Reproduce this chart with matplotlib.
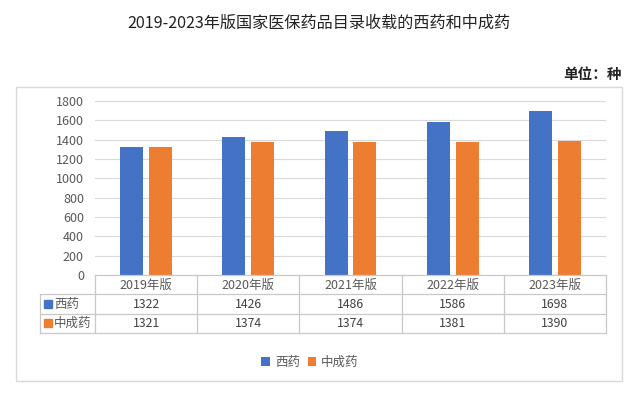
import matplotlib
matplotlib.use('Agg')
import matplotlib.pyplot as plt
import numpy as np
from matplotlib.patches import Rectangle

plt.rcParams['font.family'] = ['Noto Sans CJK SC', 'DejaVu Sans']

# data
years = ['2019年版', '2020年版', '2021年版', '2022年版', '2023年版']
western = [1322, 1426, 1486, 1586, 1698]
tcm = [1321, 1374, 1374, 1381, 1390]
names = ['西药', '中成药']
colors = ['#4472C4', '#ED7D31']
title = '2019-2023年版国家医保药品目录收载的西药和中成药'

W, H = 640, 394
fig = plt.figure(figsize=(6.4, 3.94), dpi=100)


def fx(px):
    return px / W


def fy(py):
    return 1 - py / H


# outer frame of the chart area
fig.add_artist(Rectangle((fx(16), fy(381)), fx(622) - fx(16), fy(87) - fy(381),
                         transform=fig.transFigure, fill=False, ec='#D9D9D9', lw=1))

fig.text(fx(319), fy(23), title, ha='center', va='center', fontsize=11.6, color='#222222')
fig.text(fx(622), fy(74), '单位：种', ha='right', va='center', fontsize=10.5,
         fontweight='bold', color='#222222')

# bars
ax = fig.add_axes([fx(95), fy(275), fx(606) - fx(95), fy(101) - fy(275)])
x = np.arange(len(years))
w = 0.225
b1 = ax.bar(x - 0.14, western, w, color=colors[0], zorder=2)
b2 = ax.bar(x + 0.14, tcm, w, color=colors[1], zorder=2)
ax.set_xlim(-0.5, len(years) - 0.5)
ax.set_ylim(0, 1800)
ax.set_yticks(range(0, 1801, 200))
ax.yaxis.grid(color='#D9D9D9', lw=0.8)
ax.set_axisbelow(True)
for s in ax.spines.values():
    s.set_visible(False)
ax.tick_params(axis='y', length=0, colors='#595959', labelsize=9, pad=8)
ax.set_xticks([])

# data table under the plot
tx = fig.add_axes([fx(40), fy(333), fx(606) - fx(40), fy(275) - fy(333)])
left = -0.5 - 55 / 102.2
right = len(years) - 0.5
tx.set_xlim(left, right)
tx.set_ylim(3, 0)
tx.axis('off')
lc = '#C8C8C8'
kw = dict(color=lc, lw=0.9, clip_on=False)
tx.plot([-0.5, right], [0, 0], **kw)
for yy in (1, 2, 3):
    tx.plot([left, right], [yy, yy], **kw)
for xx in np.arange(-0.5, right + 0.01, 1):
    tx.plot([xx, xx], [0, 3], **kw)
tx.plot([left, left], [1, 3], **kw)

for i, yr in enumerate(years):
    tx.text(i, 0.52, yr, ha='center', va='center', fontsize=9, color='#595959')
    tx.text(i, 1.5, str(western[i]), ha='center', va='center', fontsize=8.8, color='#404040')
    tx.text(i, 2.5, str(tcm[i]), ha='center', va='center', fontsize=8.8, color='#404040')

for r, (nm, c) in enumerate(zip(names, colors)):
    tx.plot(left + 0.075, 1.5 + r, 's', color=c, ms=5.5, clip_on=False)
    tx.text(left + 0.135, 1.5 + r, nm, ha='left', va='center', fontsize=9, color='#595959')

fig.legend([b1, b2], names, loc='center', bbox_to_anchor=(fx(310), fy(362)),
           ncol=2, frameon=False, handlelength=0.7, handleheight=0.7,
           handletextpad=0.4, columnspacing=0.6, fontsize=9, labelcolor='#595959')

fig.savefig('out.png', dpi=100)
